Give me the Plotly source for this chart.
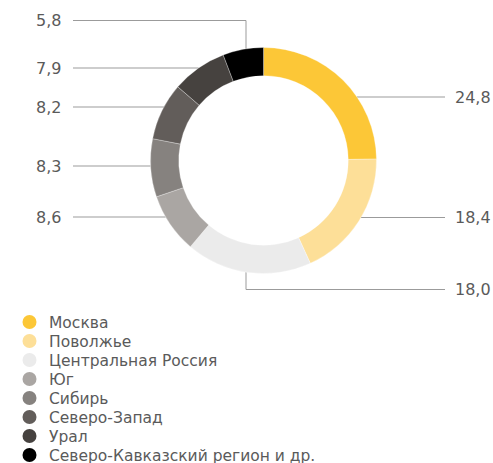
import math
import plotly.graph_objects as go

W, H = 493, 463

regions = ["Москва", "Поволжье", "Центральная Россия", "Юг", "Сибирь",
           "Северо-Запад", "Урал", "Северо-Кавказский регион и др."]
shares = [24.8, 18.4, 18.0, 8.6, 8.3, 8.2, 7.9, 5.8]
colors = ["#FCC737", "#FDDF98", "#EBEBEB", "#AAA6A3", "#86827F",
          "#625D5A", "#46423F", "#000000"]

# layout (pixels)
CX, CY, R = 263.5, 160.5, 113.0
HOLE = 0.75
LINE_COLOR = "#9b9b9b"
TEXT_COLOR = "#5a5a5a"
FONT = "DejaVu Sans"

# label placement: side, y of label line
label_pos = {
    "Москва": ("right", 97),
    "Поволжье": ("right", 217.5),
    "Центральная Россия": ("bottom", 289.5),
    "Юг": ("left", 217),
    "Сибирь": ("left", 166),
    "Северо-Запад": ("left", 107),
    "Урал": ("left", 68),
    "Северо-Кавказский регион и др.": ("top", 20.5),
}
LEFT_LINE_X, LEFT_TEXT_X = 73, 63
RIGHT_LINE_X, RIGHT_TEXT_X = 445, 453
ELBOW_X = 246

fig = go.Figure()

fig.add_trace(go.Pie(
    labels=regions, values=shares, sort=False, direction="clockwise",
    rotation=0, hole=HOLE, textinfo="none", hoverinfo="label+value",
    marker=dict(colors=colors, line=dict(color="white", width=0.3)),
    showlegend=False,
    domain=dict(x=[(CX - R) / W, (CX + R) / W],
                y=[1 - (CY + R) / H, 1 - (CY - R) / H]),
))

annotations = []
def fmt(v):
    return f"{v:.1f}".replace(".", ",")

for name, v in zip(regions, shares):
    side, y = label_pos[name]
    if side in ("left", "right"):
        dx = math.sqrt(max(R * R - (y - CY) ** 2, 0))
        if side == "left":
            xs, ys = [LEFT_LINE_X, CX - dx], [y, y]
            tx, anchor = LEFT_TEXT_X, "right"
        else:
            xs, ys = [CX + dx, RIGHT_LINE_X], [y, y]
            tx, anchor = RIGHT_TEXT_X, "left"
    elif side == "top":
        dy = math.sqrt(R * R - (ELBOW_X - CX) ** 2)
        xs, ys = [LEFT_LINE_X, ELBOW_X, ELBOW_X], [y, y, CY - dy]
        tx, anchor = LEFT_TEXT_X, "right"
    else:
        dy = math.sqrt(R * R - (ELBOW_X - CX) ** 2)
        xs, ys = [ELBOW_X, ELBOW_X, RIGHT_LINE_X], [CY + dy, y, y]
        tx, anchor = RIGHT_TEXT_X, "left"
    fig.add_trace(go.Scatter(x=xs, y=ys, mode="lines", hoverinfo="skip",
                             line=dict(color=LINE_COLOR, width=1),
                             showlegend=False))
    annotations.append(dict(x=tx, y=y, xref="x", yref="y", text=fmt(v),
                            showarrow=False, xanchor=anchor, yanchor="middle",
                            font=dict(family=FONT, size=16, color=TEXT_COLOR)))

# legend
LEG_X, LEG_TX, LEG_Y0, LEG_DY = 29.5, 47, 322, 19
leg_y = [LEG_Y0 + i * LEG_DY for i in range(len(regions))]
fig.add_trace(go.Scatter(x=[LEG_X] * len(regions), y=leg_y, mode="markers",
                         marker=dict(size=14, color=colors, line=dict(width=0)),
                         hoverinfo="skip", showlegend=False))
for name, y in zip(regions, leg_y):
    annotations.append(dict(x=LEG_TX, y=y + 0.5, xref="x", yref="y", text=name,
                            showarrow=False, xanchor="left", yanchor="middle",
                            font=dict(family=FONT, size=15.5, color=TEXT_COLOR)))

fig.update_layout(
    width=W, height=H, margin=dict(l=0, r=0, t=0, b=0),
    paper_bgcolor="white", plot_bgcolor="rgba(0,0,0,0)",
    xaxis=dict(range=[0, W], visible=False, fixedrange=True, domain=[0, 1]),
    yaxis=dict(range=[H, 0], visible=False, fixedrange=True, domain=[0, 1]),
    annotations=annotations,
)

fig.write_html("out.html", config={"displayModeBar": False},
               post_script="document.body.style.margin='0';"
                           "document.body.style.overflow='hidden';")
